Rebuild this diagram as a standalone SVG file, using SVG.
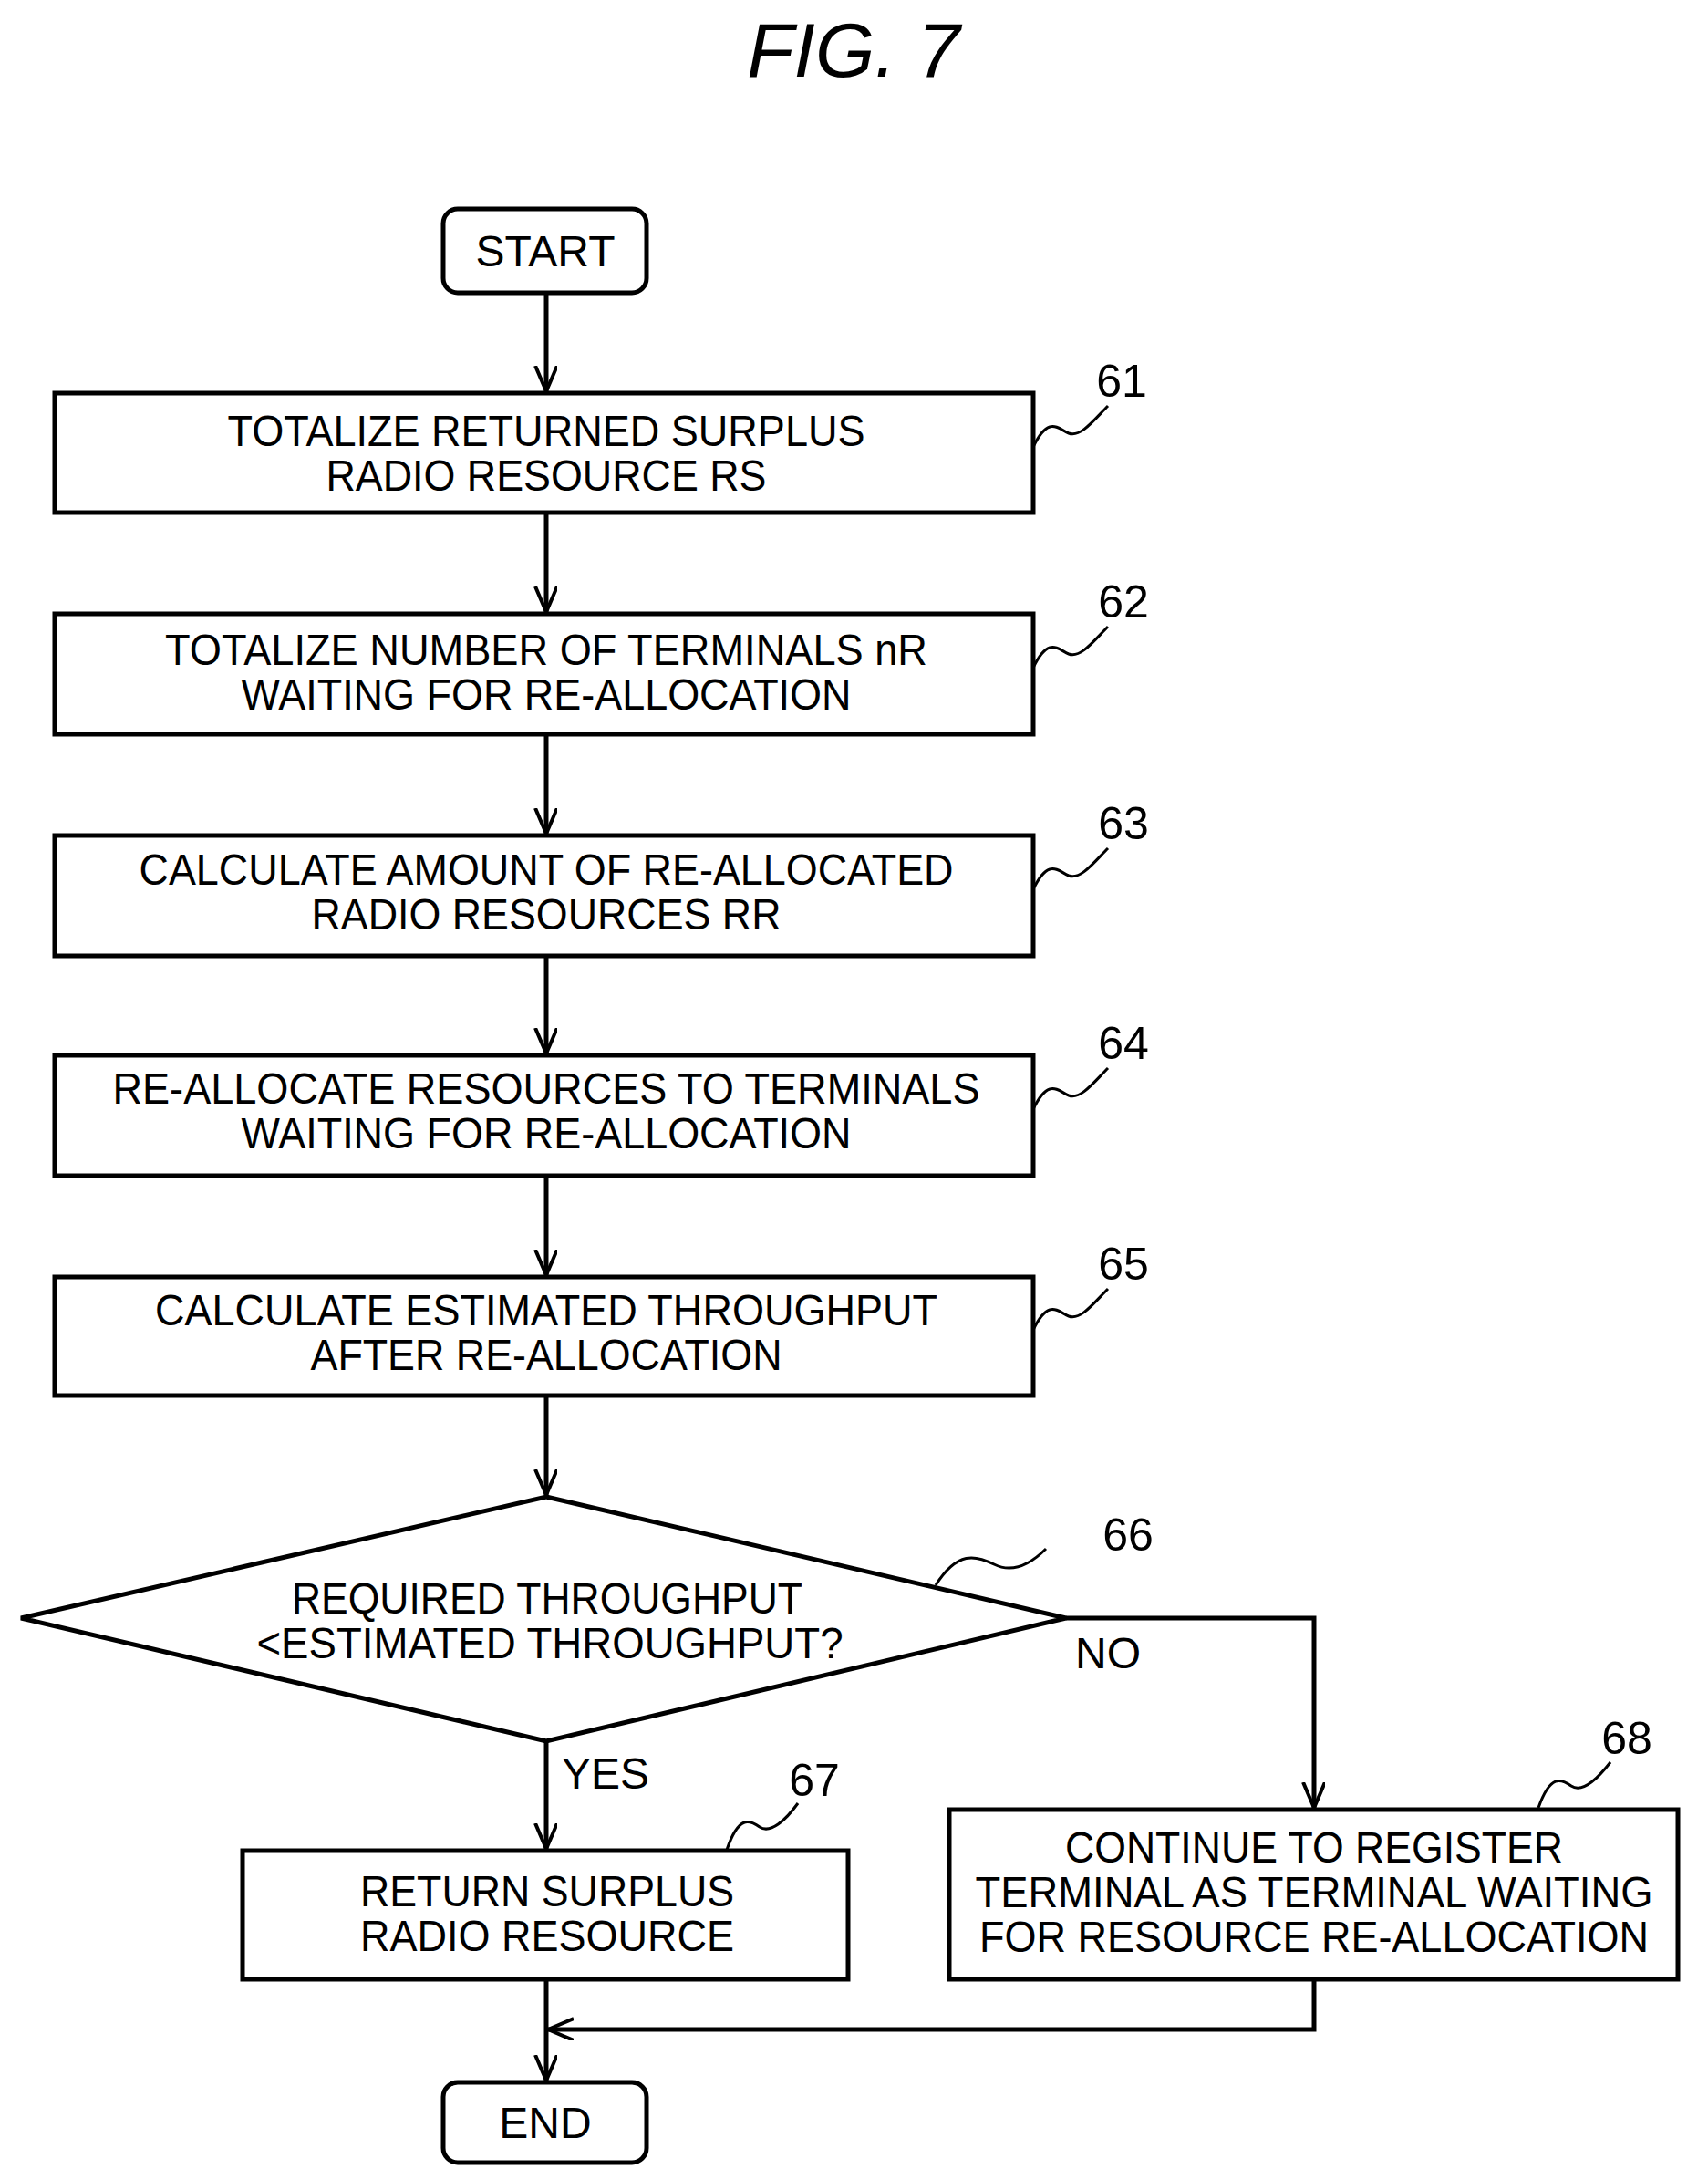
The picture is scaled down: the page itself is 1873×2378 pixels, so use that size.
<svg xmlns="http://www.w3.org/2000/svg" width="1873" height="2378" viewBox="0 0 1873 2378">
<style>
.b{fill:#fff;stroke:#000;stroke-width:5}
.c{fill:none;stroke:#000;stroke-width:5}
.s{fill:none;stroke:#000;stroke-width:3}
text{font-family:"Liberation Sans",Arial,sans-serif;font-size:48px;fill:#000;text-anchor:middle;dominant-baseline:central}
.n{font-size:50px}
</style>
<defs><marker id="a" markerWidth="30" markerHeight="30" refX="28" refY="12" orient="auto" markerUnits="userSpaceOnUse"><path d="M0,0 L28,12 L0,24" fill="none" stroke="#000" stroke-width="4"/></marker></defs>
<text x="936" y="55" style="font-size:84px;font-style:italic">FIG. 7</text>
<g id="connectors">
<line class="c" x1="599" y1="321" x2="599" y2="429" marker-end="url(#a)"/>
<line class="c" x1="599" y1="562" x2="599" y2="671" marker-end="url(#a)"/>
<line class="c" x1="599" y1="805" x2="599" y2="914" marker-end="url(#a)"/>
<line class="c" x1="599" y1="1048" x2="599" y2="1155" marker-end="url(#a)"/>
<line class="c" x1="599" y1="1289" x2="599" y2="1398" marker-end="url(#a)"/>
<line class="c" x1="599" y1="1530" x2="599" y2="1639" marker-end="url(#a)"/>
<line class="c" x1="599" y1="1909" x2="599" y2="2027" marker-end="url(#a)"/>
<polyline class="c" points="1169,1774 1441,1774 1441,1982" marker-end="url(#a)"/>
<line class="c" x1="599" y1="2170" x2="599" y2="2281" marker-end="url(#a)"/>
<polyline class="c" points="1441,2170 1441,2225 601,2225" marker-end="url(#a)"/>
<text x="1215" y="1812">NO</text>
<text x="664" y="1944">YES</text>
</g>
<g id="start"><rect class="b" x="486" y="229" width="223" height="92" rx="16"/><text x="598" y="275">START</text></g>
<g id="n61"><rect class="b" x="60" y="431" width="1073" height="131"/>
<text x="599" y="472" textLength="699" lengthAdjust="spacingAndGlyphs">TOTALIZE RETURNED SURPLUS</text>
<text x="599" y="521" textLength="483" lengthAdjust="spacingAndGlyphs">RADIO RESOURCE RS</text>
<path class="s" d="M1133,490 C1150,455 1160,470 1172,475 C1185,480 1200,460 1215,445"/><text class="n" x="1230" y="418">61</text></g>
<g id="n62"><rect class="b" x="60" y="673" width="1073" height="132"/>
<text x="599" y="712" textLength="836" lengthAdjust="spacingAndGlyphs">TOTALIZE NUMBER OF TERMINALS nR</text>
<text x="599" y="761" textLength="669" lengthAdjust="spacingAndGlyphs">WAITING FOR RE-ALLOCATION</text>
<path class="s" d="M1133,732 C1150,697 1160,712 1172,717 C1185,722 1200,702 1215,687"/><text class="n" x="1232" y="660">62</text></g>
<g id="n63"><rect class="b" x="60" y="916" width="1073" height="132"/>
<text x="599" y="953" textLength="893" lengthAdjust="spacingAndGlyphs">CALCULATE AMOUNT OF RE-ALLOCATED</text>
<text x="599" y="1002" textLength="515" lengthAdjust="spacingAndGlyphs">RADIO RESOURCES RR</text>
<path class="s" d="M1133,975 C1150,940 1160,955 1172,960 C1185,965 1200,945 1215,930"/><text class="n" x="1232" y="903">63</text></g>
<g id="n64"><rect class="b" x="60" y="1157" width="1073" height="132"/>
<text x="599" y="1193" textLength="951" lengthAdjust="spacingAndGlyphs">RE-ALLOCATE RESOURCES TO TERMINALS</text>
<text x="599" y="1242" textLength="669" lengthAdjust="spacingAndGlyphs">WAITING FOR RE-ALLOCATION</text>
<path class="s" d="M1133,1216 C1150,1181 1160,1196 1172,1201 C1185,1206 1200,1186 1215,1171"/><text class="n" x="1232" y="1144">64</text></g>
<g id="n65"><rect class="b" x="60" y="1400" width="1073" height="130"/>
<text x="599" y="1436" textLength="858" lengthAdjust="spacingAndGlyphs">CALCULATE ESTIMATED THROUGHPUT</text>
<text x="599" y="1485" textLength="517" lengthAdjust="spacingAndGlyphs">AFTER RE-ALLOCATION</text>
<path class="s" d="M1133,1458 C1150,1423 1160,1438 1172,1443 C1185,1448 1200,1428 1215,1413"/><text class="n" x="1232" y="1386">65</text></g>
<g id="n66"><polygon class="b" points="599,1641 1169,1774 599,1909 23,1774"/>
<text x="600" y="1752" textLength="560" lengthAdjust="spacingAndGlyphs">REQUIRED THROUGHPUT</text>
<text x="603" y="1801" textLength="643" lengthAdjust="spacingAndGlyphs">&lt;ESTIMATED THROUGHPUT?</text>
<path class="s" d="M1026,1738 C1050,1700 1070,1705 1090,1715 C1110,1725 1130,1715 1147,1698"/><text class="n" x="1237" y="1683">66</text></g>
<g id="n67"><rect class="b" x="266" y="2029" width="664" height="141"/>
<text x="600" y="2073" textLength="410" lengthAdjust="spacingAndGlyphs">RETURN SURPLUS</text>
<text x="600" y="2122" textLength="410" lengthAdjust="spacingAndGlyphs">RADIO RESOURCE</text>
<path class="s" d="M797,2028 C810,1990 822,1995 833,2003 C845,2011 862,1995 875,1977"/><text class="n" x="893" y="1952">67</text></g>
<g id="n68"><rect class="b" x="1041" y="1984" width="799" height="186"/>
<text x="1441" y="2025" textLength="546" lengthAdjust="spacingAndGlyphs">CONTINUE TO REGISTER</text>
<text x="1441" y="2074" textLength="743" lengthAdjust="spacingAndGlyphs">TERMINAL AS TERMINAL WAITING</text>
<text x="1441" y="2123" textLength="734" lengthAdjust="spacingAndGlyphs">FOR RESOURCE RE-ALLOCATION</text>
<path class="s" d="M1687,1982 C1700,1945 1712,1950 1723,1958 C1735,1966 1752,1950 1766,1932"/><text class="n" x="1784" y="1906">68</text></g>
<g id="end"><rect class="b" x="486" y="2283" width="223" height="88" rx="16"/><text x="598" y="2327">END</text></g>
</svg>
